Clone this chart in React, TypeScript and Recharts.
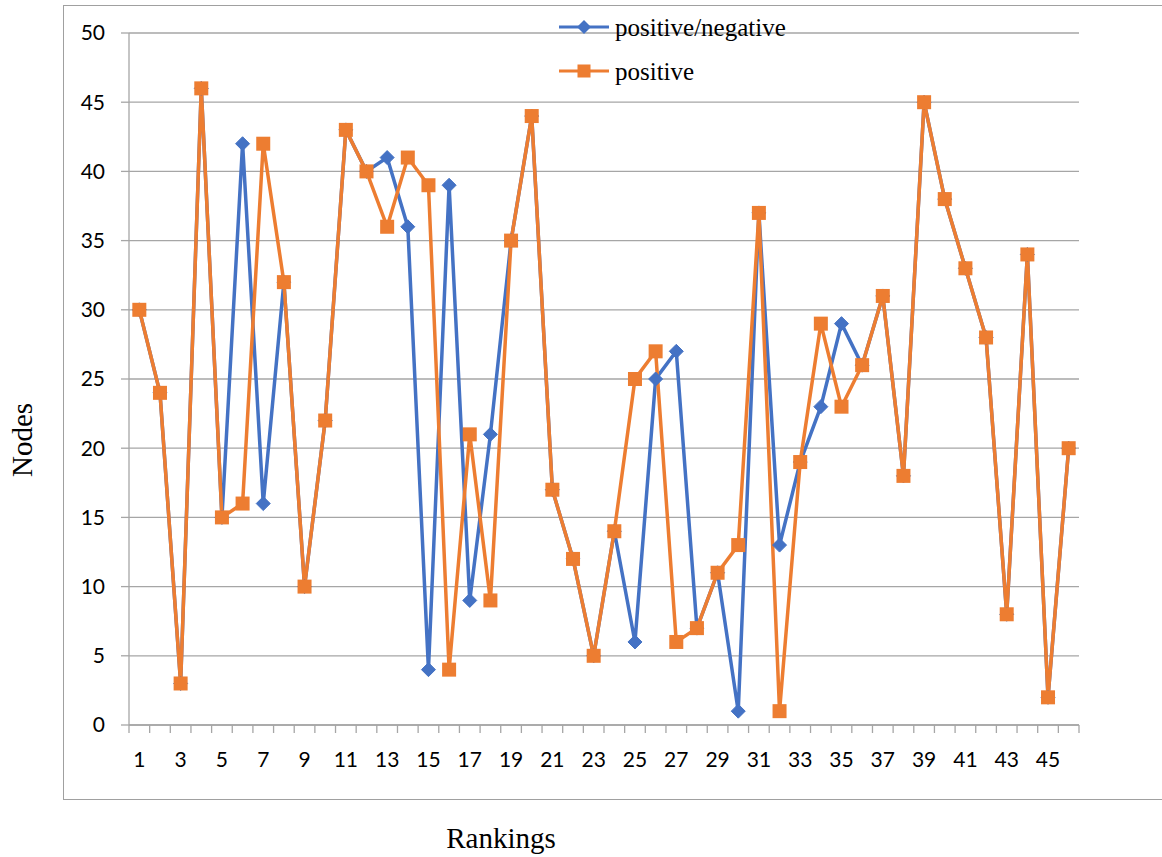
import { LineChart, Line, XAxis, YAxis, CartesianGrid, Legend } from "recharts";

const ranks = [
  1, 2, 3, 4, 5, 6, 7, 8, 9, 10, 11, 12, 13, 14, 15, 16, 17, 18, 19, 20, 21, 22, 23,
  24, 25, 26, 27, 28, 29, 30, 31, 32, 33, 34, 35, 36, 37, 38, 39, 40, 41, 42, 43, 44, 45, 46,
];
const posNeg = [
  30, 24, 3, 46, 15, 42, 16, 32, 10, 22, 43, 40, 41, 36, 4, 39, 9, 21, 35, 44, 17, 12, 5,
  14, 6, 25, 27, 7, 11, 1, 37, 13, 19, 23, 29, 26, 31, 18, 45, 38, 33, 28, 8, 34, 2, 20,
];
const positive = [
  30, 24, 3, 46, 15, 16, 42, 32, 10, 22, 43, 40, 36, 41, 39, 4, 21, 9, 35, 44, 17, 12, 5,
  14, 25, 27, 6, 7, 11, 13, 37, 1, 19, 29, 23, 26, 31, 18, 45, 38, 33, 28, 8, 34, 2, 20,
];
const xLabels = [1, 3, 5, 7, 9, 11, 13, 15, 17, 19, 21, 23, 25, 27, 29, 31, 33, 35, 37, 39, 41, 43, 45];
const yTicks = [0, 5, 10, 15, 20, 25, 30, 35, 40, 45, 50];

const data = ranks.map((r, i) => ({ rank: r, posNeg: posNeg[i], positive: positive[i] }));
// tick marks sit between categories, labels at the odd categories
const xTicks = [0.5, ...ranks.map((r) => r + 0.5), ...xLabels];

const BLUE = "#4472C4";
const ORANGE = "#ED7D31";
const GRID = "#a6a6a6";
const TICK_FONT = "Lato, 'Open Sans', sans-serif";
const SERIF = "'Liberation Serif', 'DejaVu Serif', serif";

function RankTick(props: any) {
  const { x, y, payload } = props;
  const v = payload.value;
  if (v % 1 !== 0) {
    return <line x1={x} y1={y} x2={x} y2={y + 8} stroke={GRID} strokeWidth={1.3} />;
  }
  return (
    <text x={x} y={y + 42} textAnchor="middle" fontSize={21} fontFamily={TICK_FONT} fill="#000">
      {v}
    </text>
  );
}

function Diamond(props: any) {
  const { cx, cy, index } = props;
  if (cx == null || cy == null) return null;
  const r = 7;
  return (
    <polygon
      key={"d" + index}
      points={`${cx},${cy - r} ${cx + r},${cy} ${cx},${cy + r} ${cx - r},${cy}`}
      fill={BLUE}
      stroke={BLUE}
    />
  );
}

function Square(props: any) {
  const { cx, cy, index } = props;
  if (cx == null || cy == null) return null;
  const h = 7;
  return <rect key={"s" + index} x={cx - h} y={cy - h} width={h * 2} height={h * 2} fill={ORANGE} />;
}

function LegendBox() {
  const items = [
    { name: "positive/negative", color: BLUE, shape: "diamond" },
    { name: "positive", color: ORANGE, shape: "square" },
  ];
  return (
    <div>
      {items.map((it) => (
        <div key={it.name} style={{ display: "flex", alignItems: "center", height: 44 }}>
          <svg width={52} height={20} style={{ marginRight: 5 }}>
            <line x1={1} y1={10} x2={51} y2={10} stroke={it.color} strokeWidth={3} />
            {it.shape === "diamond" ? (
              <polygon points="26,3 33,10 26,17 19,10" fill={it.color} />
            ) : (
              <rect x={19.5} y={3.5} width={13} height={13} fill={it.color} />
            )}
          </svg>
          <span style={{ fontFamily: SERIF, fontSize: 25, color: "#000", lineHeight: "25px" }}>{it.name}</span>
        </div>
      ))}
    </div>
  );
}

export default function App() {
  return (
    <div
      style={{
        position: "absolute",
        left: 0,
        top: 0,
        width: 1162,
        height: 857,
        overflow: "hidden",
        background: "#fff",
      }}
    >
      <div
        style={{
          position: "absolute",
          left: 63,
          top: 5,
          width: 1130,
          height: 795,
          border: "1.5px solid #a0a0a0",
          boxSizing: "border-box",
        }}
      />
      <div style={{ position: "absolute", left: 0, top: 0 }}>
        <LineChart
          width={1162}
          height={857}
          data={data}
          margin={{ top: 33, right: 83, bottom: 72, left: 69 }}
        >
          <CartesianGrid vertical={false} stroke={GRID} strokeWidth={1.3} />
          <XAxis
            dataKey="rank"
            type="number"
            domain={[0.5, 46.5]}
            ticks={xTicks}
            interval={0}
            height={60}
            tickSize={0}
            tickMargin={0}
            tickLine={false}
            axisLine={{ stroke: GRID, strokeWidth: 1.3 }}
            tick={<RankTick />}
          />
          <YAxis
            domain={[0, 50]}
            ticks={yTicks}
            interval={0}
            width={60}
            tickSize={8}
            tickMargin={16}
            tickLine={{ stroke: GRID, strokeWidth: 1.3 }}
            axisLine={{ stroke: GRID, strokeWidth: 1.3 }}
            tick={{ fontSize: 21, fontFamily: TICK_FONT, fill: "#000" }}
          />
          <Legend
            layout="vertical"
            align="center"
            verticalAlign="middle"
            content={<LegendBox />}
            wrapperStyle={{ left: 558, top: 5, width: 300 }}
          />
          <Line
            name="positive/negative"
            dataKey="posNeg"
            stroke={BLUE}
            strokeWidth={3.5}
            dot={<Diamond />}
            activeDot={false}
            isAnimationActive={false}
          />
          <Line
            name="positive"
            dataKey="positive"
            stroke={ORANGE}
            strokeWidth={3.5}
            dot={<Square />}
            activeDot={false}
            isAnimationActive={false}
          />
        </LineChart>
      </div>
      <div
        style={{
          position: "absolute",
          left: 22,
          top: 440,
          transform: "translate(-50%, -50%) rotate(-90deg)",
          fontFamily: SERIF,
          fontSize: 29,
          whiteSpace: "nowrap",
        }}
      >
        Nodes
      </div>
      <div
        style={{
          position: "absolute",
          left: 501,
          top: 838,
          transform: "translate(-50%, -50%)",
          fontFamily: SERIF,
          fontSize: 29,
          whiteSpace: "nowrap",
        }}
      >
        Rankings
      </div>
    </div>
  );
}
